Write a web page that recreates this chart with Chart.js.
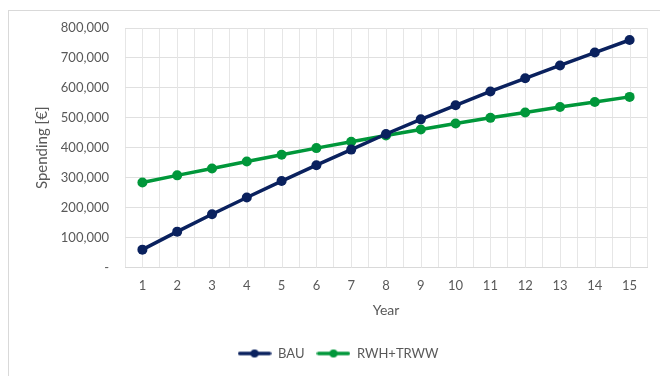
<!DOCTYPE html>
<html>
<head>
<meta charset="utf-8">
<script src="https://cdn.jsdelivr.net/npm/chart.js@4"></script>
<style>
  body { margin: 0; background: #fff; }
  #wrap { position: relative; width: 660px; height: 376px; overflow: hidden; }
  #frame { position: absolute; left: 8px; top: 10px; width: 700px; height: 400px; border: 1px solid #d9d9d9; box-sizing: border-box; }
  canvas { position: absolute; left: 0; top: 0; }
</style>
</head>
<body>
<div id="wrap">
  <div id="frame"></div>
  <canvas id="chart" width="660" height="376"></canvas>
</div>
<script>
const years = ["1", "2", "3", "4", "5", "6", "7", "8", "9", "10", "11", "12", "13", "14", "15"];
const bau = [60000, 120000, 178000, 234000, 289000, 342000, 394000, 446000, 495000, 542000, 588000, 632000, 675000, 718000, 760000];
const rwhTrww = [284000, 308000, 331000, 354000, 377000, 399000, 420000, 441000, 461000, 481000, 500000, 518000, 536000, 553000, 570000];
const seriesNames = ["BAU", "RWH+TRWW"];
const seriesColors = ["#0a215e", "#00973a"];

const textColor = "#595959";
const fontFamily = "Lato, 'Open Sans', sans-serif";

// legend icon: line with a dot in the middle, like excel
function makeIcon(color) {
  const c = document.createElement("canvas");
  c.width = 34; c.height = 10;
  const x = c.getContext("2d");
  x.strokeStyle = color;
  x.lineWidth = 3.5;
  x.lineCap = "round";
  x.beginPath(); x.moveTo(2, 5); x.lineTo(32, 5); x.stroke();
  x.fillStyle = color;
  x.beginPath(); x.arc(17, 5, 4, 0, Math.PI * 2); x.fill();
  return c;
}
const legendIcons = seriesColors.map(makeIcon);

// extra vertical grid lines at category centres
const centreLines = {
  id: "centreLines",
  beforeDatasetsDraw(chart) {
    const { ctx, chartArea, scales } = chart;
    ctx.save();
    ctx.strokeStyle = "#e6e6e6";
    ctx.lineWidth = 1;
    years.forEach((_, i) => {
      const px = Math.round(scales.x.getPixelForValue(i)) + 0.5;
      ctx.beginPath();
      ctx.moveTo(px, chartArea.top);
      ctx.lineTo(px, chartArea.bottom);
      ctx.stroke();
    });
    ctx.restore();
  }
};

const ctx = document.getElementById("chart").getContext("2d");
new Chart(ctx, {
  type: "line",
  data: {
    labels: years,
    datasets: [bau, rwhTrww].map((d, i) => ({
      label: seriesNames[i],
      data: d,
      borderColor: seriesColors[i],
      backgroundColor: seriesColors[i],
      borderWidth: 3.5,
      pointRadius: 5,
      pointHoverRadius: 5,
      pointBorderWidth: 0,
      tension: 0
    }))
  },
  options: {
    responsive: false,
    animation: false,
    layout: { padding: { left: 29, right: 13, top: 28, bottom: 6 } },
    plugins: {
      tooltip: { enabled: false },
      legend: {
        position: "bottom",
        labels: {
          color: textColor,
          font: { family: fontFamily, size: 13 },
          usePointStyle: true,
          pointStyleWidth: 34,
          padding: 12,
          generateLabels: chart => Chart.defaults.plugins.legend.labels.generateLabels(chart)
            .map((l, i) => ({ ...l, pointStyle: legendIcons[i] }))
        }
      }
    },
    scales: {
      x: {
        offset: true,
        grid: { offset: true, color: "#e6e6e6", drawTicks: false },
        border: { color: "#d9d9d9" },
        ticks: { color: textColor, font: { family: fontFamily, size: 13 }, padding: 10 },
        title: { display: true, text: "Year", color: textColor, font: { family: fontFamily, size: 14 }, padding: { top: -1, bottom: 16 } }
      },
      y: {
        min: 0,
        max: 800000,
        afterFit: s => { s.width = 96; },
        grid: { color: "#e0e0e0", drawTicks: false },
        border: { display: false },
        ticks: {
          stepSize: 100000,
          color: textColor,
          font: { family: fontFamily, size: 13 },
          padding: 16,
          callback: v => v === 0 ? "-" : v.toLocaleString("en-US")
        },
        title: { display: true, text: "Spending [€]", color: textColor, font: { family: fontFamily, size: 15 } }
      }
    }
  },
  plugins: [centreLines]
});
</script>
</body>
</html>
